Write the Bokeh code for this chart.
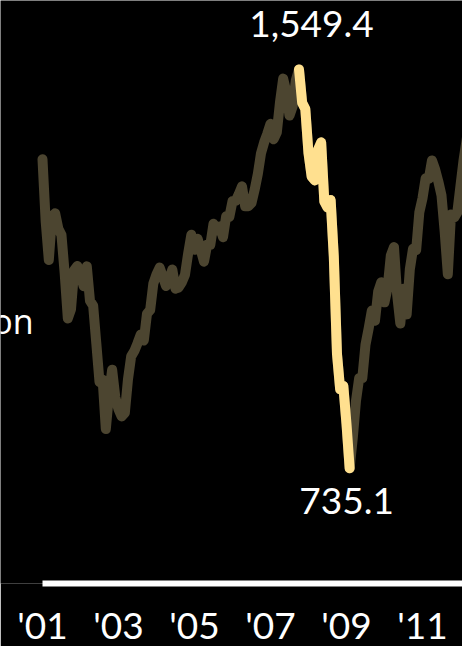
from bokeh.plotting import figure
from bokeh.models import Range1d, FixedTicker, Label, ColumnDataSource
from bokeh.core.properties import value
from bokeh.embed import file_html
from bokeh.resources import INLINE

# S&P 500 monthly closes, Jan 2001 .. Mar 2012
start_year = 2001
close = [
    1366.01, 1239.94, 1160.33, 1249.46, 1255.82, 1224.38, 1211.23, 1133.58, 1040.94, 1059.78, 1139.45, 1148.08,
    1130.20, 1106.73, 1147.39, 1076.92, 1067.14, 989.82, 911.62, 916.07, 815.28, 885.76, 936.31, 879.82,
    855.70, 841.15, 848.18, 916.92, 963.59, 974.50, 990.31, 1008.01, 995.97, 1050.71, 1058.20, 1111.92,
    1131.13, 1144.94, 1126.21, 1107.30, 1120.68, 1140.84, 1101.72, 1104.24, 1114.58, 1130.20, 1173.82, 1211.92,
    1181.27, 1203.60, 1180.59, 1156.85, 1191.50, 1191.33, 1234.18, 1220.33, 1228.81, 1207.01, 1249.48, 1248.29,
    1280.08, 1280.66, 1294.83, 1310.61, 1270.09, 1270.20, 1276.66, 1303.82, 1335.85, 1377.94, 1400.63, 1418.30,
    1438.24, 1406.82, 1420.86, 1482.37, 1530.62, 1503.35, 1455.27, 1473.99, 1526.75, 1549.38, 1481.14, 1468.36,
    1378.55, 1330.63, 1322.70, 1385.59, 1400.38, 1280.00, 1267.38, 1282.83, 1166.36, 968.75, 896.24, 903.25,
    825.88, 735.09, 797.87, 872.81, 919.14, 919.32, 987.48, 1020.62, 1057.08, 1036.19, 1095.63, 1115.10,
    1073.87, 1104.49, 1169.43, 1186.69, 1089.41, 1030.71, 1101.60, 1049.33, 1141.20, 1183.26, 1180.55, 1257.64,
    1286.12, 1327.22, 1325.83, 1363.61, 1345.20, 1320.64, 1292.28, 1218.89, 1131.42, 1253.30, 1246.96, 1257.60,
    1312.41, 1365.68, 1408.47,
]
peak_label = "1,549.4"
trough_label = "735.1"
tick_years = [2001, 2003, 2005, 2007, 2009, 2011]
tick_labels = ["'01", "'03", "'05", "'07", "'09", "'11"]
side_text = "on"

x = [start_year + i / 12 for i in range(len(close))]
peak_i = close.index(max(close))
trough_i = close.index(min(close))

FONT = "Lato"
DARK = "#4c4530"
HIGH = "#ffe08f"
LW = 10

p = figure(
    frame_width=462, frame_height=583,
    x_range=Range1d(1999.895, 2012.053), y_range=Range1d(500, 1690),
    output_backend="svg", toolbar_location=None,
    y_axis_location=None, x_axis_location="below",
    background_fill_color="black", border_fill_color="black",
    outline_line_color=None, min_border=0, min_border_bottom=63,
)
p.grid.visible = False

p.line(x, close, line_color=DARK, line_width=LW, line_join="round", line_cap="round")
p.line(x[peak_i:trough_i + 1], close[peak_i:trough_i + 1], line_color=HIGH, line_width=LW,
       line_join="round", line_cap="round")

lab = ColumnDataSource(dict(
    x=[x[peak_i], x[trough_i]], y=[close[peak_i], close[trough_i]],
    t=[peak_label, trough_label], dx=[12.5, -3], dy=[-45, 33],
))
p.text(x="x", y="y", text="t", x_offset="dx", y_offset="dy", source=lab,
       text_color="white", text_font=value(FONT), text_font_size="37px",
       text_align="center", text_baseline="alphabetic")

p.add_layout(Label(x=33, y=263, x_units="screen", y_units="screen", text=side_text,
                   text_color="white", text_font="Open Sans", text_font_size="34px",
                   text_align="right", text_baseline="alphabetic"))

ax = p.xaxis[0]
ax.ticker = FixedTicker(ticks=tick_years)
ax.major_label_overrides = {y: l for y, l in zip(tick_years, tick_labels)}
ax.bounds = (tick_years[0], 2013)
ax.axis_line_color = "white"
ax.axis_line_width = 6
ax.major_tick_line_color = None
ax.minor_tick_line_color = None
ax.major_tick_out = 0
ax.major_tick_in = 0
ax.major_label_standoff = 18
ax.major_label_text_color = "white"
ax.major_label_text_font = FONT
ax.major_label_text_font_size = "37px"

open("out.html", "w").write(file_html(p, INLINE))
